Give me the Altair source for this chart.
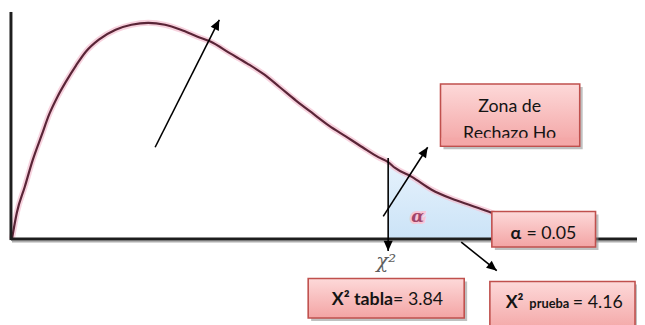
import math
import altair as alt
import pandas as pd

# ---- diagram values (units = pixels of the reference drawing) ----
curve_x = [12, 17, 25, 33, 42, 50, 58, 67, 77, 87, 100, 117, 133, 150, 167, 183,
           200, 213, 233, 250, 267, 283, 300, 317, 333, 350, 367, 383, 393, 400,
           417, 437, 457, 477, 497, 520]
curve_y = [240, 213, 187, 160, 135, 113, 96, 80, 64, 50, 38, 28, 23, 21, 23, 28,
           35, 40, 52, 62, 73, 86, 100, 113, 125, 136, 147, 157, 162, 168,
           177, 190, 199, 206, 213, 222]
critical_x = 393
axis_y = 240
axis_x_end = 645
yaxis_x = 11
yaxis_top = 10

# arrows: start -> tip
arrow_x0 = [157, 388, 467, 393]
arrow_y0 = [147, 217, 243, 158]
arrow_x1 = [222, 433, 503, 393]
arrow_y1 = [18, 147, 272, 252]

# boxes: label, left, right, top, bottom
box_names = ["zona", "alpha", "tabla", "prueba"]
box_x0 = [446, 498, 312, 496]
box_x1 = [587, 603, 470, 643]
box_y0 = [83, 212, 280, 283]
box_y1 = [146, 248, 320, 335]

# text pieces
txt = ["Zona de", "Rechazo Ho", "α", "= 0.05", "X² tabla", "= 3.84",
       "X²", "prueba", "= 4.16"]
txt_x = [516, 516, 517, 533, 398, 398, 512, 536, 580]
txt_y = [111, 139, 240, 240, 307, 307, 310, 310, 310]
txt_size = [18, 18, 18, 18, 18, 18, 18, 13, 18]
txt_weight = ["normal", "normal", "bold", "normal", "bold", "normal", "bold", "bold", "normal"]
txt_align = ["center", "center", "left", "left", "right", "left", "left", "left", "left"]

FONT = "Lato"

X = alt.Scale(domain=[8, 645], nice=False, zero=False)
Y = alt.Scale(domain=[8, 325], nice=False, zero=False, reverse=True)

def xe(f="x"):
    return alt.X(f"{f}:Q", scale=X, axis=None)

def ye(f="y"):
    return alt.Y(f"{f}:Q", scale=Y, axis=None)

curve = pd.DataFrame({"x": curve_x, "y": curve_y})
tail = curve[curve.x >= critical_x].copy()
tail["y2"] = axis_y

area = alt.Chart(tail).mark_area(
    interpolate="monotone",
    fill=alt.Gradient(gradient="linear", x1=0, x2=0, y1=0, y2=1,
                      stops=[alt.GradientStop(color="#e6f2fc", offset=0),
                             alt.GradientStop(color="#cbe3f7", offset=1)]),
).encode(x=xe(), y=ye(), y2="y2:Q")

glow = alt.Chart(curve).mark_line(interpolate="monotone", color="#f4bfd0",
                                  strokeWidth=6, opacity=0.7).encode(x=xe(), y=ye())
line = alt.Chart(curve).mark_line(interpolate="monotone", color="#5a2537",
                                  strokeWidth=2.2).encode(x=xe(), y=ye())

axes = pd.DataFrame({
    "x": [yaxis_x, yaxis_x, yaxis_x + 1],
    "x2": [yaxis_x, axis_x_end, axis_x_end],
    "y": [yaxis_top, axis_y, axis_y + 2.5],
    "y2": [axis_y + 1, axis_y, axis_y + 2.5],
    "c": ["a", "a", "s"],
})
axis_main = alt.Chart(axes[axes.c == "a"]).mark_rule(color="#1e1e1e", strokeWidth=3).encode(
    x=xe(), x2="x2:Q", y=ye(), y2="y2:Q")
axis_shadow = alt.Chart(axes[axes.c == "s"]).mark_rule(color="#9a9a9a", strokeWidth=2, opacity=0.8).encode(
    x=xe(), x2="x2:Q", y=ye(), y2="y2:Q")

arr = pd.DataFrame({"x": arrow_x0, "y": arrow_y0, "x2": arrow_x1, "y2": arrow_y1})
arr["ang"] = [
    (math.degrees(math.atan2(x1 - x0, -(y1 - y0))) + 360) % 360
    for x0, y0, x1, y1 in zip(arrow_x0, arrow_y0, arrow_x1, arrow_y1)
]
shafts = alt.Chart(arr).mark_rule(color="#000000", strokeWidth=1.6).encode(
    x=xe(), x2="x2:Q", y=ye(), y2="y2:Q")
heads = alt.Chart(arr).mark_point(
    shape="M0,0L-0.45,1L0.45,1Z", filled=True, color="#000000", opacity=1, size=420
).encode(x=xe("x2"), y=ye("y2"), angle=alt.Angle("ang:Q", scale=None))

boxes = pd.DataFrame({"name": box_names, "x": box_x0, "x2": box_x1, "y": box_y0, "y2": box_y1})
shadow = boxes.copy()
shadow["x"] = shadow["x"] + 3
shadow["x2"] = shadow["x2"] + 3
shadow["y"] = shadow["y"] + 3
shadow["y2"] = shadow["y2"] + 3
box_shadow = alt.Chart(shadow).mark_rect(color="#8c8c8c", opacity=0.55).encode(
    x=xe(), x2="x2:Q", y=ye(), y2="y2:Q")
box_rect = alt.Chart(boxes).mark_rect(
    fill=alt.Gradient(gradient="linear", x1=0, x2=0, y1=0, y2=1,
                      stops=[alt.GradientStop(color="#fdd9d9", offset=0),
                             alt.GradientStop(color="#f7b9b9", offset=0.6),
                             alt.GradientStop(color="#f3a4a4", offset=1)]),
    stroke="#c0504d", strokeWidth=1.6,
).encode(x=xe(), x2="x2:Q", y=ye(), y2="y2:Q")

texts = pd.DataFrame({"t": txt, "x": txt_x, "y": txt_y, "s": txt_size,
                      "w": txt_weight, "a": txt_align})
text_layers = []
for (s, w, a), g in texts.groupby(["s", "w", "a"]):
    text_layers.append(
        alt.Chart(g).mark_text(font=FONT, fontSize=int(s), fontWeight=w, align=a,
                               baseline="alphabetic", color="#141414").encode(
            x=xe(), y=ye(), text="t:N"))

# clip the bottom of "Rechazo Ho" as in the original text box
zona = boxes[boxes.name == "zona"].iloc[0]
clip = pd.DataFrame({"x": [zona.x + 1], "x2": [zona.x2 - 1], "y": [137.5], "y2": [zona.y2 - 1]})
clip_rect = alt.Chart(clip).mark_rect(color="#f4a8a8").encode(
    x=xe(), x2="x2:Q", y=ye(), y2="y2:Q")

sym = pd.DataFrame({"t": ["α", "χ²"], "x": [423, 391], "y": [218, 263]})
alpha_halo = alt.Chart(sym.iloc[[0]]).mark_text(
    font="DejaVu Serif", fontStyle="italic", fontWeight="bold", fontSize=17,
    color="#f3b3c8", stroke="#f6c6d6", strokeWidth=4, baseline="middle", align="center"
).encode(x=xe(), y=ye(), text="t:N")
alpha_sym = alt.Chart(sym.iloc[[0]]).mark_text(
    font="DejaVu Serif", fontStyle="italic", fontWeight="bold", fontSize=17,
    color="#a2456a", baseline="middle", align="center"
).encode(x=xe(), y=ye(), text="t:N")
chi_sym = alt.Chart(sym.iloc[[1]]).mark_text(
    font="DejaVu Serif", fontStyle="italic", fontSize=20,
    color="#444444", baseline="middle", align="center", opacity=0.85
).encode(x=xe(), y=ye(), text="t:N")

chart = alt.layer(
    area, glow, line, axis_shadow, axis_main, chi_sym, alpha_halo, alpha_sym,
    shafts, heads, box_shadow, box_rect, *text_layers, clip_rect,
).properties(
    width=637, height=317, padding=0,
    autosize=alt.AutoSizeParams(type="none"),
    background="#ffffff",
).configure_view(stroke=None)

chart.save("out.html", embed_options={"renderer": "svg", "actions": False})
